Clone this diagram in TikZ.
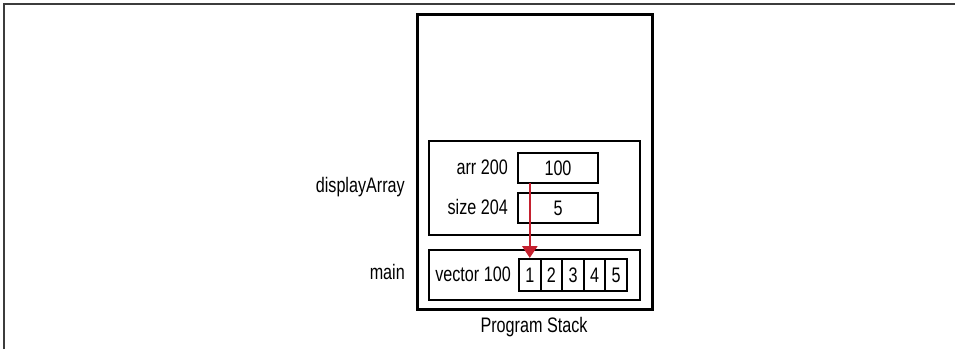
\documentclass[tikz,border=0pt]{standalone}
\usepackage{fontspec}
\setmainfont{Liberation Sans}[FakeStretch=0.77]
\usetikzlibrary{arrows.meta}
\definecolor{arrred}{RGB}{196,32,46}
\definecolor{framegray}{RGB}{60,60,60}
\begin{document}
\begin{tikzpicture}[x=1pt,y=-1pt,
  box/.style={draw=black,line width=2.2pt,inner sep=0pt,anchor=north west},
  cell/.style={draw=black,line width=2pt,inner sep=0pt,minimum width=21.6pt,minimum height=32pt,anchor=north west,font=\fontsize{21}{25}\selectfont},
  lbl/.style={inner sep=0pt,font=\fontsize{21}{25}\selectfont},
  ptr/.style={draw=arrred,line width=2.6pt,-{Triangle[width=15pt,length=12pt]},arrred}]
\useasboundingbox (0,0) rectangle (955,349);
\draw[framegray,line width=1.5pt] (4,349) -- (4,4) -- (955,4);
\node[box,line width=2.8pt,minimum width=235pt,minimum height=295pt] (stack) at (416,13) {};
\node[box,minimum width=211pt,minimum height=94pt] (dframe) at (428,140) {};
\node[box,minimum width=211pt,minimum height=50pt] (mframe) at (428,249) {};
\node[box,line width=2pt,minimum width=80pt,minimum height=30pt,font=\fontsize{21}{25}\selectfont] (arr) at (517,152) {100};
\node[box,line width=2pt,minimum width=80pt,minimum height=30pt,font=\fontsize{21}{25}\selectfont] (size) at (517,192) {5};
\node[cell] (c1) at (518,258) {1};
\node[cell] (c2) at (539.6,258) {2};
\node[cell] (c3) at (561.2,258) {3};
\node[cell] (c4) at (582.8,258) {4};
\node[cell] (c5) at (604.4,258) {5};
\node[lbl,anchor=east] (arrl) at (508,167) {arr 200};
\node[lbl,anchor=east] (sizel) at (508,207) {size 204};
\node[lbl,anchor=east] (vecl) at (511,274) {vector 100};
\node[lbl,anchor=east] (dlbl) at (405,187) {displayArray};
\node[lbl,anchor=east] (mlbl) at (405,272) {main};
\node[lbl] (ps) at (534,327) {Program Stack};
\draw[ptr] (c1.north |- arr.south) ++(0,-1) -- (c1.north);
\end{tikzpicture}
\end{document}
